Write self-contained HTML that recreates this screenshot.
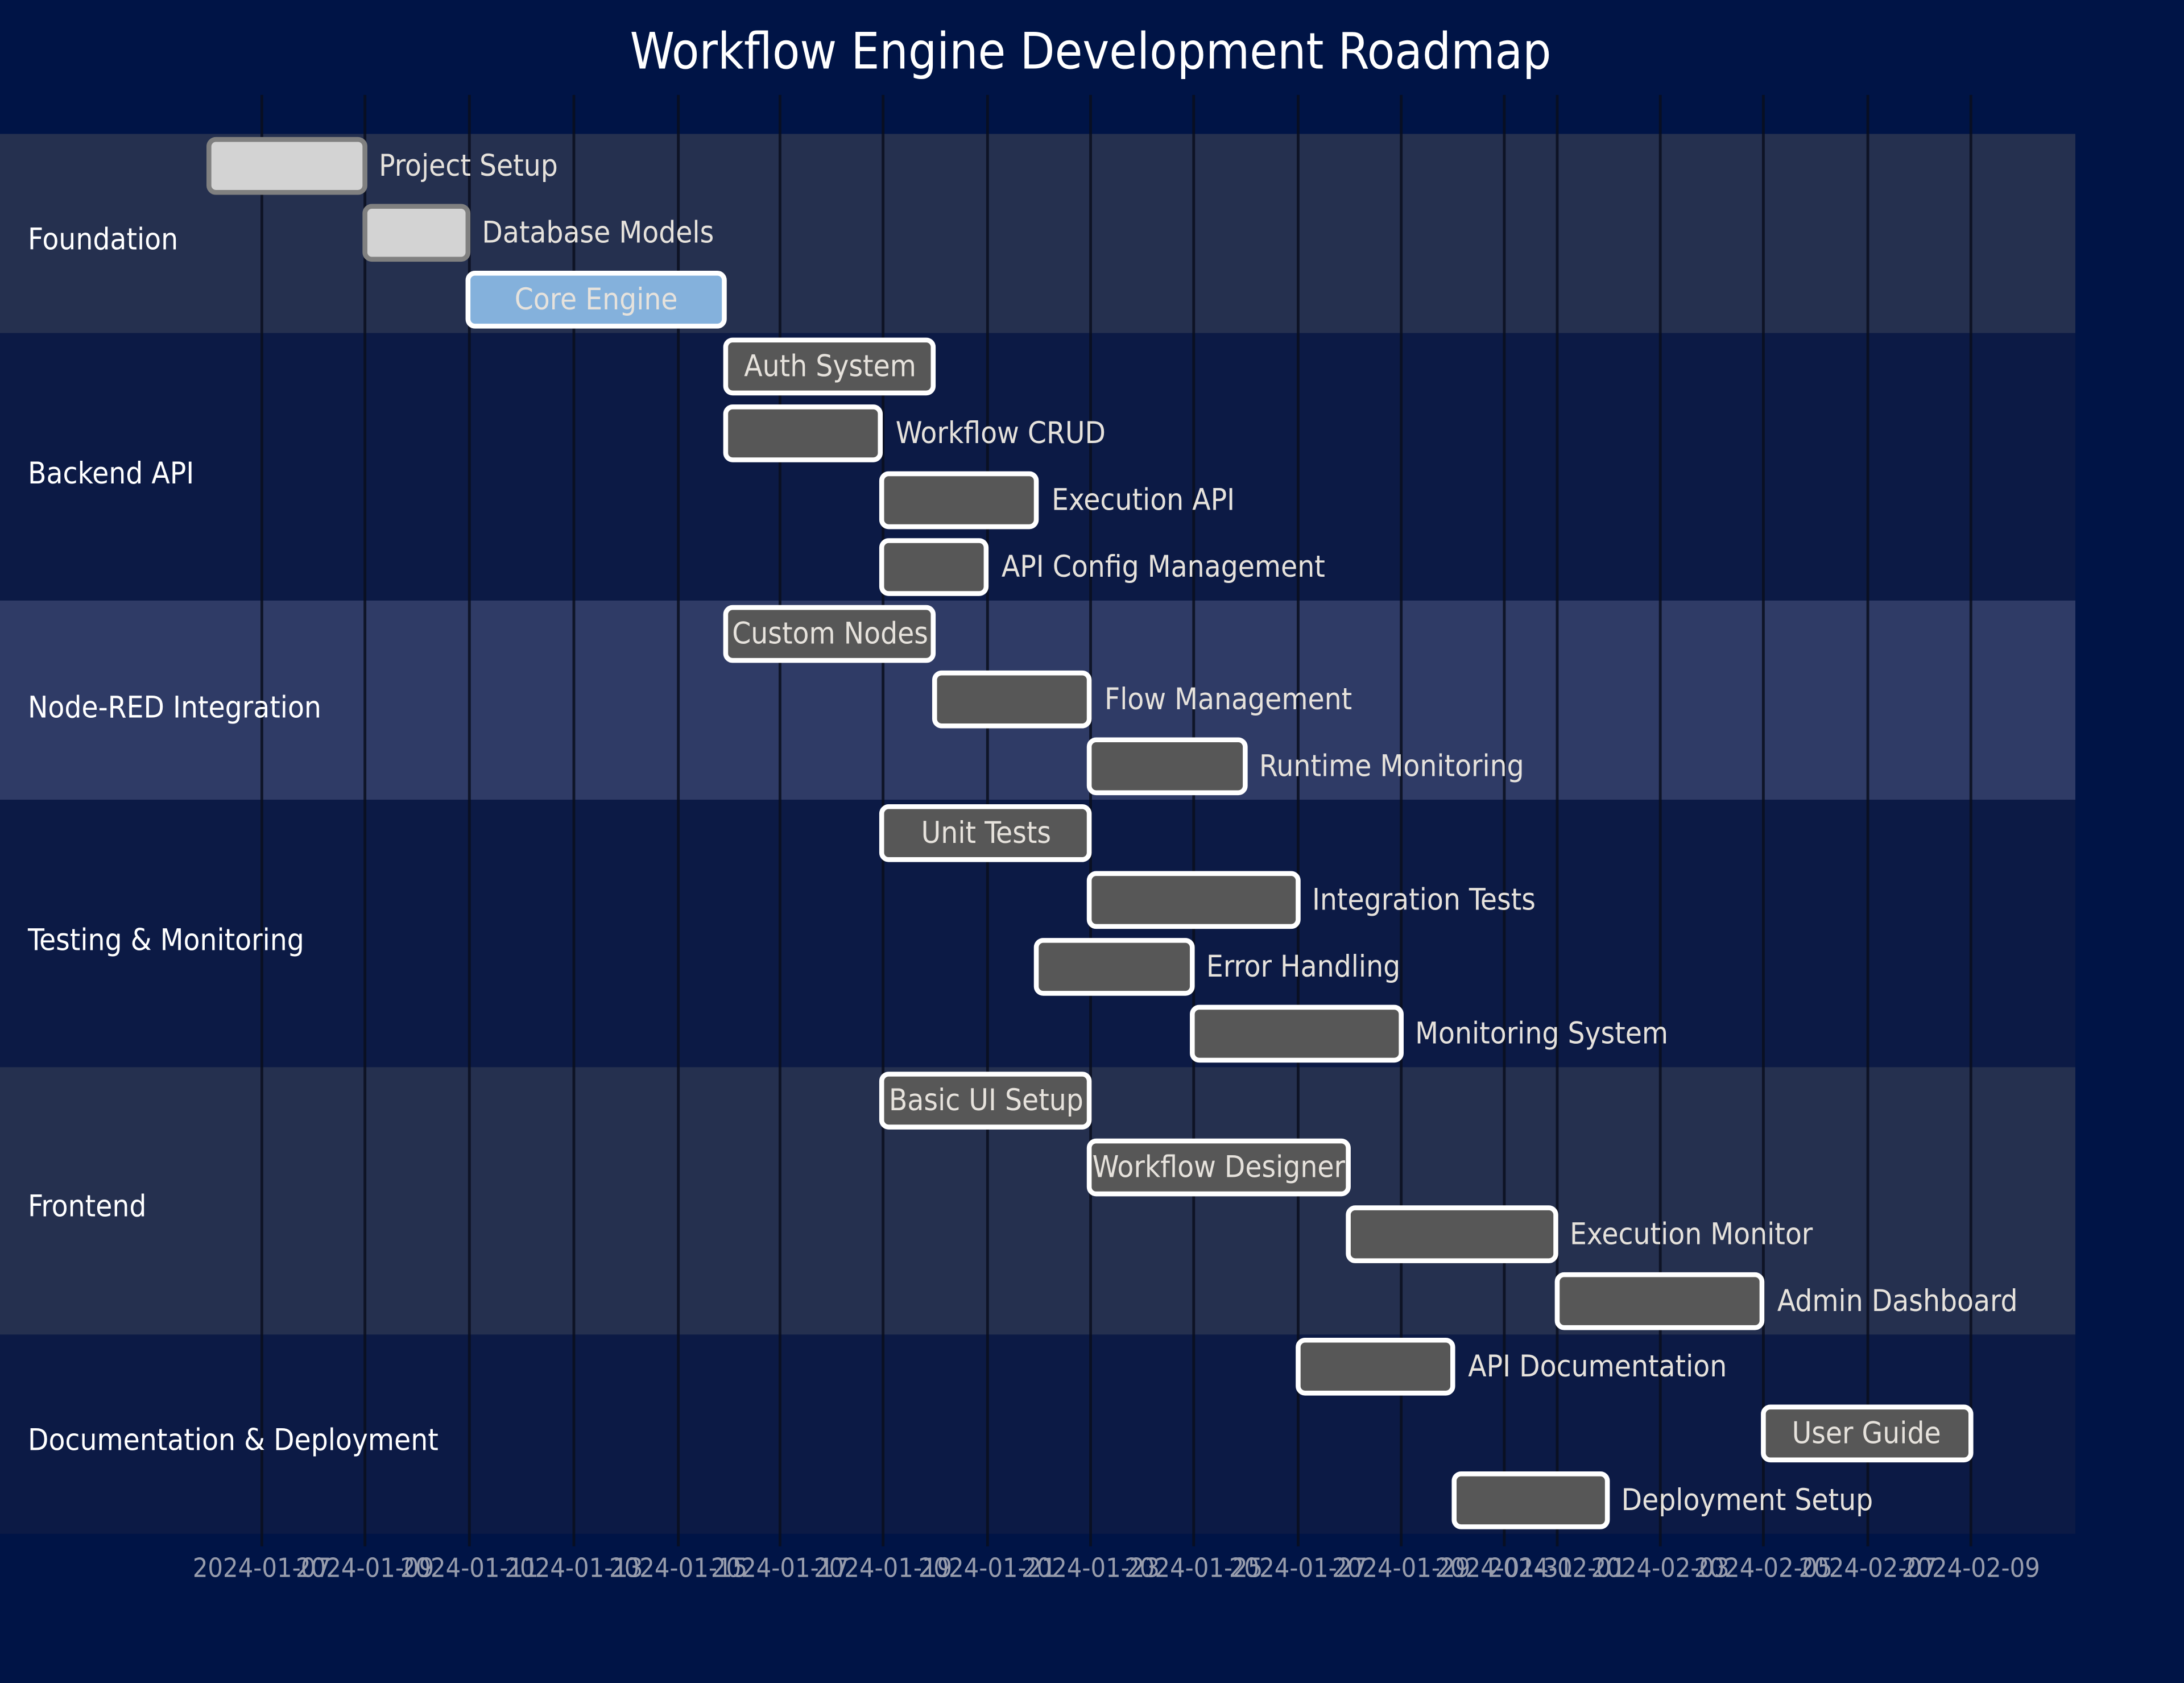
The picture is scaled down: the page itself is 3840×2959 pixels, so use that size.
<!DOCTYPE html>
<html><head><meta charset="utf-8"><style>
html,body{margin:0;padding:0;background:#001446;}
svg{display:block;}
text{font-family:"DejaVu Sans Condensed","Liberation Sans",sans-serif;}
</style></head><body>
<svg width="3840" height="2959" viewBox="0 0 1568 1208" xmlns="http://www.w3.org/2000/svg">
<rect width="1568" height="1208" fill="#001446"/>
<text x="783" y="49" text-anchor="middle" font-size="36" fill="#ffffff">Workflow Engine Development Roadmap</text>
<rect x="0" y="96" width="1490" height="143" fill="#25304f"/>
<rect x="0" y="239" width="1490" height="192" fill="#0c1a45"/>
<rect x="0" y="431" width="1490" height="143" fill="#2f3b66"/>
<rect x="0" y="574" width="1490" height="192" fill="#0c1a45"/>
<rect x="0" y="766" width="1490" height="192" fill="#25304f"/>
<rect x="0" y="958" width="1490" height="143" fill="#0c1a45"/>
<g stroke="#0a0f1e" stroke-width="2" opacity="0.85">
<line x1="188" y1="68" x2="188" y2="1110"/><line x1="262" y1="68" x2="262" y2="1110"/>
<line x1="337" y1="68" x2="337" y2="1110"/><line x1="412" y1="68" x2="412" y2="1110"/>
<line x1="487" y1="68" x2="487" y2="1110"/><line x1="560" y1="68" x2="560" y2="1110"/>
<line x1="634" y1="68" x2="634" y2="1110"/><line x1="709" y1="68" x2="709" y2="1110"/>
<line x1="783" y1="68" x2="783" y2="1110"/><line x1="857" y1="68" x2="857" y2="1110"/>
<line x1="932" y1="68" x2="932" y2="1110"/><line x1="1006" y1="68" x2="1006" y2="1110"/>
<line x1="1080" y1="68" x2="1080" y2="1110"/><line x1="1118" y1="68" x2="1118" y2="1110"/>
<line x1="1192" y1="68" x2="1192" y2="1110"/><line x1="1266" y1="68" x2="1266" y2="1110"/>
<line x1="1341" y1="68" x2="1341" y2="1110"/><line x1="1415" y1="68" x2="1415" y2="1110"/>
</g>
<g font-size="19" fill="#a8abb8" text-anchor="middle" opacity="0.9">
<text x="188" y="1132">2024-01-07</text><text x="262" y="1132">2024-01-09</text>
<text x="337" y="1132">2024-01-11</text><text x="412" y="1132">2024-01-13</text>
<text x="487" y="1132">2024-01-15</text><text x="560" y="1132">2024-01-17</text>
<text x="634" y="1132">2024-01-19</text><text x="709" y="1132">2024-01-21</text>
<text x="783" y="1132">2024-01-23</text><text x="857" y="1132">2024-01-25</text>
<text x="932" y="1132">2024-01-27</text><text x="1006" y="1132">2024-01-29</text>
<text x="1080" y="1132">2024-01-31</text><text x="1118" y="1132">2024-02-01</text>
<text x="1192" y="1132">2024-02-03</text><text x="1266" y="1132">2024-02-05</text>
<text x="1341" y="1132">2024-02-07</text><text x="1415" y="1132">2024-02-09</text>
</g>
<g font-size="21.5" fill="#ffffff">
<text x="20" y="179">Foundation</text>
<text x="20" y="347">Backend API</text>
<text x="20" y="515">Node-RED Integration</text>
<text x="20" y="682">Testing &amp; Monitoring</text>
<text x="20" y="873">Frontend</text>
<text x="20" y="1041">Documentation &amp; Deployment</text>
</g>
<g fill="#d3d3d3" stroke="#808080" stroke-width="3.5">
<rect x="150" y="100" width="112" height="38" rx="5"/>
<rect x="262" y="148" width="74" height="38" rx="5"/>
</g>
<rect x="336" y="196" width="184" height="38" rx="5" fill="#84b1dc" stroke="#ffffff" stroke-width="3.5"/>
<g fill="#575757" stroke="#ffffff" stroke-width="3.5">
<rect x="521" y="244" width="149" height="38" rx="5"/>
<rect x="521" y="292" width="111" height="38" rx="5"/>
<rect x="633" y="340" width="111" height="38" rx="5"/>
<rect x="633" y="388" width="75" height="38" rx="5"/>
<rect x="521" y="436" width="149" height="38" rx="5"/>
<rect x="671" y="483" width="111" height="38" rx="5"/>
<rect x="782" y="531" width="112" height="38" rx="5"/>
<rect x="633" y="579" width="149" height="38" rx="5"/>
<rect x="782" y="627" width="150" height="38" rx="5"/>
<rect x="744" y="675" width="112" height="38" rx="5"/>
<rect x="856" y="723" width="150" height="38" rx="5"/>
<rect x="633" y="771" width="149" height="38" rx="5"/>
<rect x="782" y="819" width="186" height="38" rx="5"/>
<rect x="968" y="867" width="149" height="38" rx="5"/>
<rect x="1118" y="915" width="147" height="38" rx="5"/>
<rect x="932" y="962" width="111" height="38" rx="5"/>
<rect x="1266" y="1010" width="149" height="38" rx="5"/>
<rect x="1044" y="1058" width="110" height="38" rx="5"/>
</g>
<g font-size="21.5" fill="#e6e2dc">
<text x="272" y="126">Project Setup</text>
<text x="346" y="174">Database Models</text>
<text x="643" y="318">Workflow CRUD</text>
<text x="755" y="366">Execution API</text>
<text x="719" y="414">API Config Management</text>
<text x="793" y="509">Flow Management</text>
<text x="904" y="557">Runtime Monitoring</text>
<text x="942" y="653">Integration Tests</text>
<text x="866" y="701">Error Handling</text>
<text x="1016" y="749">Monitoring System</text>
<text x="1127" y="893">Execution Monitor</text>
<text x="1276" y="941">Admin Dashboard</text>
<text x="1054" y="988">API Documentation</text>
<text x="1164" y="1084">Deployment Setup</text>
</g>
<g font-size="21.5" fill="#e6e2dc" text-anchor="middle">
<text x="428" y="222">Core Engine</text>
<text x="596" y="270">Auth System</text>
<text x="596" y="462">Custom Nodes</text>
<text x="708" y="605">Unit Tests</text>
<text x="708" y="797">Basic UI Setup</text>
<text x="875" y="845">Workflow Designer</text>
<text x="1340" y="1036">User Guide</text>
</g>
</svg>
</body></html>
